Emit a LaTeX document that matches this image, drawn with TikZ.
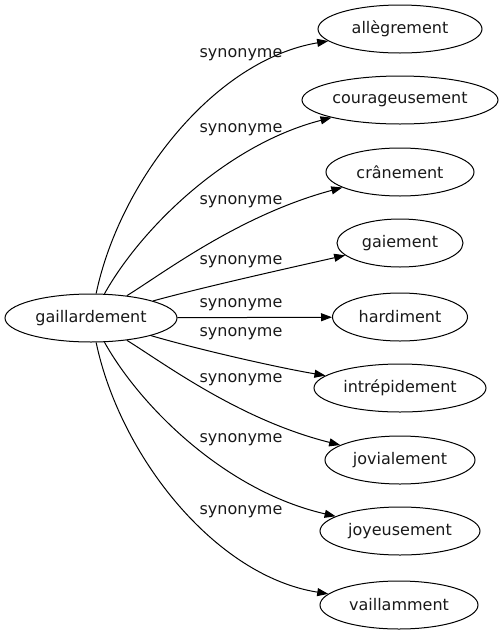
\documentclass[tikz,border=0pt]{standalone}
\usepackage{fontspec}
\setmainfont{DejaVu Sans}
\usetikzlibrary{shapes.geometric,arrows.meta}
\begin{document}
\begin{tikzpicture}[x=1pt,y=-1pt,
  word/.style={ellipse,draw,line width=1pt,inner sep=0pt,minimum height=48pt,font=\fontsize{16}{16}\selectfont,text=black!90},
  lbl/.style={inner sep=0pt,font=\fontsize{16}{16}\selectfont,text=black!90},
  syn/.style={line width=1pt,-{Triangle[length=11pt,width=8pt]}}]
\useasboundingbox (0,0) rectangle (503,635);
\node[word,minimum width=172pt] (src) at (91,318) {gaillardement};
\node[word,minimum width=164pt] (t1) at (400,29) {allègrement};
\node[word,minimum width=196pt] (t2) at (400,100) {courageusement};
\node[word,minimum width=148pt] (t3) at (400,172) {crânement};
\node[word,minimum width=126pt] (t4) at (400,243) {gaiement};
\node[word,minimum width=135pt] (t5) at (400,317) {hardiment};
\node[word,minimum width=172pt] (t6) at (400,388) {intrépidement};
\node[word,minimum width=150pt] (t7) at (400,460) {jovialement};
\node[word,minimum width=160pt] (t8) at (400,531) {joyeusement};
\node[word,minimum width=158pt] (t9) at (399,605) {vaillamment};
\node[lbl] (l1) at (241,55) {synonyme};
\node[lbl] (l2) at (241,130) {synonyme};
\node[lbl] (l3) at (241,202) {synonyme};
\node[lbl] (l4) at (241,262) {synonyme};
\node[lbl] (l5) at (241,305) {synonyme};
\node[lbl] (l6) at (241,334) {synonyme};
\node[lbl] (l7) at (241,380) {synonyme};
\node[lbl] (l8) at (241,440) {synonyme};
\node[lbl] (l9) at (241,512) {synonyme};
\draw[syn] (src) .. controls (120,180) and (215,60) .. (t1);
\draw[syn] (src) .. controls (140,230) and (225,145) .. (t2);
\draw[syn] (src) .. controls (165,272) and (240,215) .. (t3);
\draw[syn] (src) .. controls (200,288) and (280,270) .. (t4);
\draw[syn] (src) -- (t5);
\draw[syn] (src) .. controls (200,350) and (280,368) .. (t6);
\draw[syn] (src) .. controls (165,364) and (240,420) .. (t7);
\draw[syn] (src) .. controls (140,406) and (225,491) .. (t8);
\draw[syn] (src) .. controls (120,456) and (215,576) .. (t9);
\end{tikzpicture}
\end{document}
